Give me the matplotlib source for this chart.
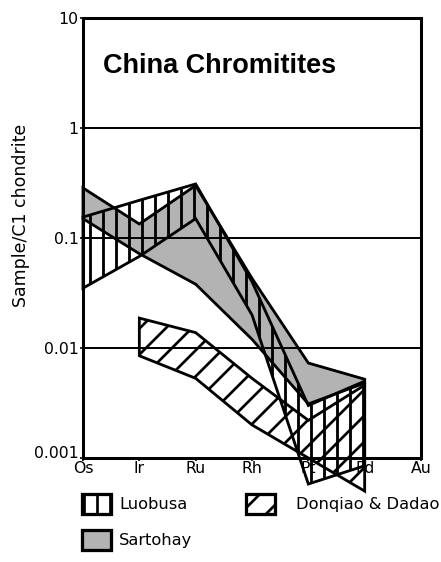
import numpy as np
import matplotlib
matplotlib.use("Agg")
import matplotlib.pyplot as plt
from matplotlib.ticker import FixedLocator, FixedFormatter, NullLocator
from matplotlib.transforms import ScaledTranslation
from matplotlib.collections import LineCollection
from matplotlib.patches import Patch

# PGE spider diagram, chondrite normalised
elements = ["Os", "Ir", "Ru", "Rh", "Pt", "Pd", "Au"]

# Luobusa range (Os..Pd)
luobusa_hi = [0.155, 0.22, 0.31, 0.040, 0.0030, 0.0050]
luobusa_lo = [0.035, 0.068, 0.15, 0.020, 0.00058, 0.00085]

# Sartohay range (Os..Pd)
sartohay_hi = [0.285, 0.134, 0.30, 0.043, 0.0073, 0.0052]
sartohay_lo = [0.15, 0.072, 0.038, 0.012, 0.0031, 0.0048]

# Donqiao & Dadao range (Ir..Pd)
donqiao_hi = [0.0187, 0.0138, 0.0053, 0.0022, 0.0046]
donqiao_lo = [0.0085, 0.0053, 0.0020, 0.0010, 0.0005]

ytick_vals = [0.001, 0.01, 0.1, 1, 10]
ytick_labels = ["0.001", "0.01", "0.1", "1", "10"]

DPI = 78
LW = 2.6
plt.rcParams["font.family"] = ["DejaVu Sans"]
plt.rcParams["hatch.linewidth"] = 2.5
plt.rcParams["hatch.color"] = "black"

fig = plt.figure(figsize=(441 / DPI, 562 / DPI), dpi=DPI)
ax = fig.add_axes([83 / 441, 1 - 458 / 562, 338 / 441, 440 / 562])
ax.set_yscale("log")
ax.set_ylim(1e-3, 10)
ax.set_xlim(0, len(elements) - 1)


def band(first, hi, lo):
    idx = list(range(first, first + len(hi)))
    xs = idx + idx[::-1]
    ys = list(hi) + list(lo)[::-1]
    return xs, ys


xs, ys = band(0, sartohay_hi, sartohay_lo)
ax.fill(xs, ys, facecolor="#b3b3b3", edgecolor="black", lw=LW,
        clip_on=False, zorder=1)

xs, ys = band(1, donqiao_hi, donqiao_lo)
ax.fill(xs, ys, facecolor="none", edgecolor="black", hatch="/",
        lw=LW, clip_on=False, zorder=1.2)

xs, ys = band(0, luobusa_hi, luobusa_lo)
luo = ax.fill(xs, ys, facecolor="none", edgecolor="black",
              lw=LW, clip_on=False, zorder=1.4)[0]

# vertical hatching for Luobusa, about 13 px apart, clipped to the band
step = 13 / 338 * (len(elements) - 1)
hx = np.arange(step / 2, len(luobusa_hi) - 1, step)
segs = [[(x, 1e-4), (x, 1.0)] for x in hx]
hatch = LineCollection(segs, colors="black", linewidths=2.6, zorder=1.3)
hatch.set_clip_path(luo)
ax.add_collection(hatch, autolim=False)

ax.yaxis.set_major_locator(FixedLocator(ytick_vals))
ax.yaxis.set_major_formatter(FixedFormatter(ytick_labels))
ax.yaxis.set_minor_locator(NullLocator())
ax.set_xticks(range(len(elements)))
ax.set_xticklabels(elements)

ax.grid(axis="y", color="black", lw=1.8)
ax.set_axisbelow(False)
for s in ax.spines.values():
    s.set_linewidth(2.8)

ax.tick_params(axis="both", direction="out", length=3, width=1.5,
               labelsize=14.5, pad=1)
ax.tick_params(axis="x", pad=0)

# lift the bottom y label clear of the "Os" label
lbl = ax.get_yticklabels()[0]
lbl.set_transform(lbl.get_transform() + ScaledTranslation(0, 6 / DPI, fig.dpi_scale_trans))

ax.set_ylabel("Sample/C1 chondrite", fontsize=16)
ax.yaxis.set_label_coords(-0.157, 0.552)

ax.text(0.059, 0.875, "China Chromitites", transform=ax.transAxes,
        family="Liberation Sans", fontsize=25, fontweight="bold",
        ha="left", va="baseline")

h_luo = Patch(facecolor="white", edgecolor="black", hatch="|", lw=3.0, label="Luobusa")
h_sar = Patch(facecolor="#b3b3b3", edgecolor="black", lw=3.0, label="Sartohay")
h_don = Patch(facecolor="white", edgecolor="black", hatch="/", lw=3.0, label="Donqiao & Dadao")

leg_kw = dict(frameon=False, fontsize=15, handlelength=1.8,
              handleheight=1.5, borderpad=0, borderaxespad=0)
fig.legend(handles=[h_luo, h_sar], loc="upper left",
           bbox_to_anchor=(82 / 441, 1 - 494 / 562),
           handletextpad=0.5, labelspacing=1.0, **leg_kw)
fig.legend(handles=[h_don], loc="upper left",
           bbox_to_anchor=(246 / 441, 1 - 494 / 562),
           handletextpad=1.3, **leg_kw)

fig.savefig("out.png", dpi=DPI)
